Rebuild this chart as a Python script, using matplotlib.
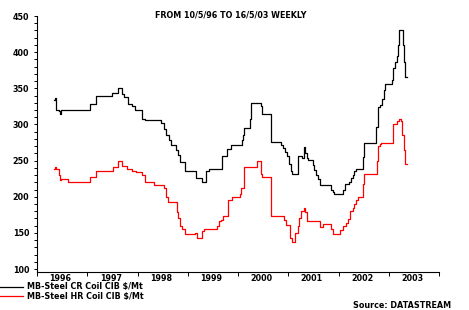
import numpy as np
import matplotlib
matplotlib.use("Agg")
import matplotlib.pyplot as plt
from matplotlib.ticker import MultipleLocator

# weekly series, stored as step breakpoints (decimal year, $/Mt)
cr_dates = [1996.34, 1996.36, 1996.38, 1996.44, 1996.46, 1996.48, 1997.06, 1997.18,
            1997.50, 1997.62, 1997.70, 1997.73, 1997.82, 1997.90, 1997.96, 1998.08,
            1998.14, 1998.46, 1998.52, 1998.56, 1998.62, 1998.66, 1998.76, 1998.80,
            1998.84, 1998.94, 1999.16, 1999.28, 1999.36, 1999.42, 1999.46, 1999.68,
            1999.78, 1999.86, 2000.08, 2000.10, 2000.12, 2000.24, 2000.26, 2000.46,
            2000.48, 2000.66, 2000.86, 2000.90, 2000.94, 2000.98, 2001.02, 2001.06,
            2001.08, 2001.20, 2001.28, 2001.32, 2001.34, 2001.38, 2001.40, 2001.50,
            2001.52, 2001.56, 2001.60, 2001.64, 2001.86, 2001.90, 2001.92, 2002.08,
            2002.12, 2002.20, 2002.24, 2002.28, 2002.31, 2002.34, 2002.48, 2002.50,
            2002.75, 2002.78, 2002.82, 2002.86, 2002.90, 2002.92, 2003.06, 2003.08,
            2003.12, 2003.16, 2003.18, 2003.20, 2003.28, 2003.30, 2003.32, 2003.37]
cr_values = [334, 337, 320, 318, 314, 320, 328, 340,
             343, 350, 342, 338, 328, 326, 320, 308,
             306, 302, 294, 285, 278, 271, 265, 258,
             248, 236, 226, 220, 235, 239, 238, 256,
             266, 271, 278, 285, 295, 307, 330, 326,
             315, 276, 271, 267, 262, 256, 246, 235,
             232, 256, 253, 269, 260, 253, 251, 244,
             237, 230, 224, 216, 210, 207, 204, 209,
             218, 221, 226, 230, 235, 238, 255, 275,
             297, 324, 327, 335, 348, 356, 362, 378,
             387, 394, 410, 430, 410, 387, 365, 365]

hr_dates = [1996.34, 1996.36, 1996.38, 1996.44, 1996.46, 1996.48, 1996.62, 1997.06,
            1997.18, 1997.52, 1997.62, 1997.70, 1997.80, 1997.90, 1997.98, 1998.08,
            1998.14, 1998.32, 1998.52, 1998.56, 1998.60, 1998.78, 1998.80, 1998.84,
            1998.88, 1998.94, 1999.14, 1999.18, 1999.28, 1999.32, 1999.58, 1999.62,
            1999.66, 1999.70, 1999.80, 1999.88, 2000.04, 2000.06, 2000.12, 2000.38,
            2000.46, 2000.48, 2000.66, 2000.92, 2000.96, 2001.04, 2001.08, 2001.14,
            2001.20, 2001.22, 2001.26, 2001.32, 2001.34, 2001.38, 2001.64, 2001.70,
            2001.86, 2001.90, 2002.02, 2002.08, 2002.14, 2002.18, 2002.22, 2002.28,
            2002.30, 2002.34, 2002.38, 2002.48, 2002.50, 2002.76, 2002.78, 2002.82,
            2002.84, 2003.08, 2003.17, 2003.20, 2003.24, 2003.26, 2003.30, 2003.32,
            2003.37]
hr_values = [238, 241, 238, 230, 223, 225, 221, 228,
             235, 241, 250, 243, 238, 236, 234, 230,
             220, 216, 212, 200, 193, 179, 170, 160,
             155, 148, 150, 143, 153, 155, 160, 166,
             168, 173, 195, 200, 204, 212, 241, 250,
             232, 228, 173, 168, 161, 143, 137, 150,
             159, 170, 181, 184, 179, 166, 158, 163,
             156, 149, 154, 160, 164, 169, 181, 184,
             190, 196, 200, 218, 231, 250, 270, 273,
             275, 300, 305, 308, 305, 285, 265, 245,
             245]

years = [1996, 1997, 1998, 1999, 2000, 2001, 2002, 2003]
series_labels = ["MB-Steel CR Coil CIB $/Mt", "MB-Steel HR Coil CIB $/Mt"]

plt.rcParams['font.family'] = ['DejaVu Sans']
fs = 5.8

fig = plt.figure(figsize=(4.69, 3.10), dpi=100)
ax = fig.add_axes([37 / 469, 1 - 272 / 310, (439 - 37) / 469, (272 - 16) / 310])

ax.plot(cr_dates, cr_values, color='black', lw=0.9, drawstyle='steps-post')
ax.plot(hr_dates, hr_values, color='red', lw=0.9, drawstyle='steps-post')

ax.set_xlim(1996, 2004)
ax.set_ylim(96, 450)
for s in ['top', 'right']:
    ax.spines[s].set_visible(False)
ax.spines['left'].set_linewidth(0.8)
ax.spines['bottom'].set_linewidth(0.8)

ax.set_yticks(np.arange(100, 451, 50))
ax.yaxis.set_minor_locator(MultipleLocator(10))
ax.tick_params(axis='y', which='both', direction='out', length=2.5, width=0.7,
               labelsize=fs, pad=3)
ax.set_xticks(years + [2004])
ax.set_xticklabels([])
ax.tick_params(axis='x', which='major', direction='out', length=3, width=0.7)
ax.set_xticks([y + 0.47 for y in years], minor=True)
ax.set_xticklabels([str(y) for y in years], minor=True, fontsize=fs, fontweight='bold')
ax.tick_params(axis='x', which='minor', length=0, pad=1.5)
for lab in ax.get_yticklabels():
    lab.set_fontweight('bold')

fig.text(231 / 469, 1 - 15 / 310, "FROM 10/5/96 TO 16/5/03 WEEKLY", fontsize=fs,
         ha='center', va='center', fontweight='bold')

# legend drawn under the axes
fig.add_artist(plt.Line2D([0, 23 / 469], [1 - 287 / 310] * 2, color='black', lw=0.9))
fig.add_artist(plt.Line2D([0, 23 / 469], [1 - 296 / 310] * 2, color='red', lw=0.9))
fig.text(27 / 469, 1 - 287 / 310, series_labels[0], fontsize=fs, va='center', fontweight='bold')
fig.text(27 / 469, 1 - 296 / 310, series_labels[1], fontsize=fs, va='center', fontweight='bold')
fig.text(451 / 469, 1 - 306 / 310, "Source: DATASTREAM", fontsize=fs, ha='right',
         va='center', fontweight='bold')

fig.savefig("out.png", dpi=100)
